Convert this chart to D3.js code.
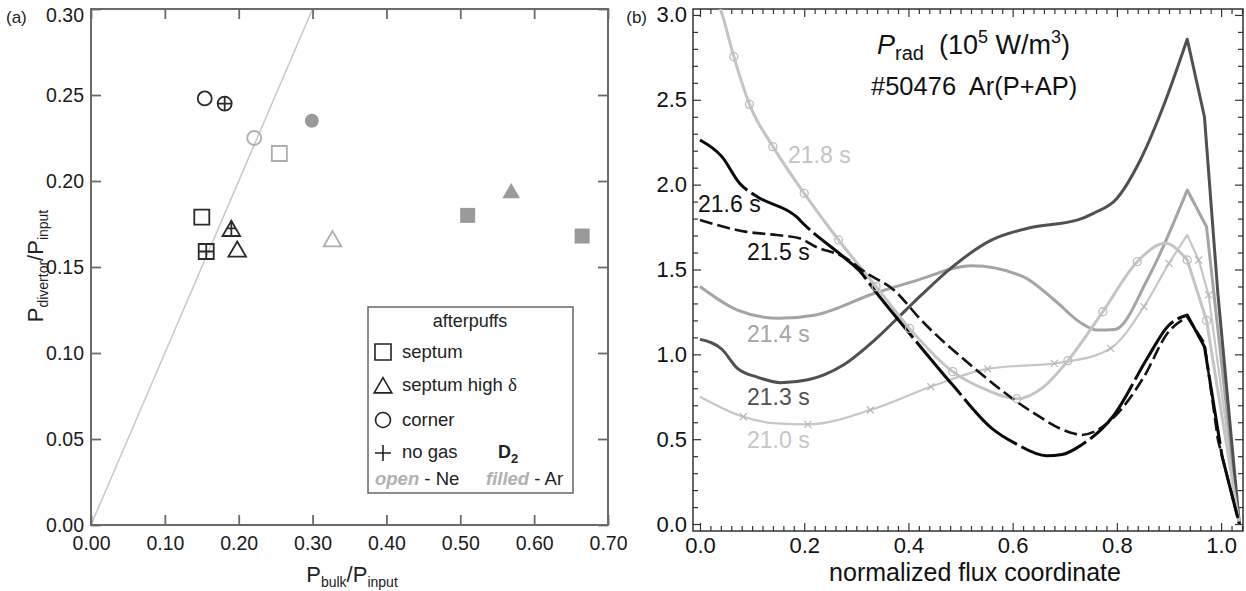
<!DOCTYPE html>
<html><head><meta charset="utf-8">
<script src="https://cdn.jsdelivr.net/npm/d3@7"></script>
<style>
body{margin:0;background:#fff}
svg{display:block}
text{font-family:"Liberation Sans",Arial,Helvetica,sans-serif}
</style>
</head><body>
<svg id="c" width="1246" height="591"></svg>
<script>
// ---------- Panel (a) data ----------
const aXTicks = [0, 0.1, 0.2, 0.3, 0.4, 0.5, 0.6, 0.7];
const aXTickLabels = ["0.00","0.10","0.20","0.30","0.40","0.50","0.60","0.70"];
const aYTicks = [0, 0.05, 0.1, 0.15, 0.2, 0.25, 0.3];
const aYTickLabels = ["0.00","0.05","0.10","0.15","0.20","0.25","0.30"];
const refLineX = [0, 0.3];
const refLineY = [0, 0.3];
const ptX     = [0.154, 0.181, 0.221, 0.299, 0.255, 0.150, 0.190, 0.156, 0.198, 0.327, 0.510, 0.569, 0.665];
const ptY     = [0.248, 0.245, 0.225, 0.235, 0.216, 0.179, 0.172, 0.159, 0.160, 0.166, 0.180, 0.194, 0.168];
const ptShape = ["circle","circle","circle","circle","square","square","triangle","square","triangle","triangle","square","triangle","square"];
const ptGas   = ["D2","D2","Ne","Ar","Ne","D2","D2","D2","D2","Ne","Ar","Ar","Ar"];
const ptNoGas = [false,true,false,false,false,false,true,true,false,false,false,false,false];
const legendItems = ["septum","septum high ","corner","no gas"];
const legendShapes = ["square","triangle","circle","plus"];

// ---------- Panel (b) data ----------
const bXMajor = [0, 0.2, 0.4, 0.6, 0.8, 1.0];
const bXMajorLabels = ["0.0","0.2","0.4","0.6","0.8","1.0"];
const bYMajor = [0, 0.5, 1.0, 1.5, 2.0, 2.5, 3.0];
const bYMajorLabels = ["0.0","0.5","1.0","1.5","2.0","2.5","3.0"];
const bXMinorStep = 0.02;
const bYMinorStep = 0.1;

const s218x = [0, 0.02, 0.042, 0.065, 0.095, 0.14, 0.2, 0.266, 0.338, 0.402, 0.485, 0.55, 0.608, 0.66, 0.706, 0.773, 0.839, 0.893, 0.935, 0.972, 1.035];
const s218y = [3.40, 3.20, 3.01, 2.754, 2.473, 2.224, 1.949, 1.674, 1.399, 1.153, 0.898, 0.79, 0.738, 0.81, 0.963, 1.251, 1.546, 1.654, 1.556, 1.20, 0.0];
const s218marks = [0.065, 0.095, 0.14, 0.2, 0.266, 0.338, 0.402, 0.485, 0.608, 0.706, 0.773, 0.839, 0.935, 0.972];

const s216x = [0, 0.042, 0.076, 0.11, 0.185, 0.2, 0.275, 0.305, 0.342, 0.41, 0.485, 0.56, 0.605, 0.665, 0.695, 0.732, 0.792, 0.86, 0.897, 0.935, 0.968, 1.002, 1.035];
const s216y = [2.263, 2.165, 2.008, 1.929, 1.811, 1.765, 1.575, 1.495, 1.35, 1.094, 0.819, 0.564, 0.475, 0.403, 0.41, 0.466, 0.632, 0.986, 1.163, 1.232, 1.045, 0.397, 0.0];

const s215x = [0, 0.087, 0.147, 0.191, 0.222, 0.275, 0.32, 0.372, 0.425, 0.522, 0.635, 0.71, 0.732, 0.785, 0.852, 0.897, 0.935, 0.968, 0.994, 1.035];
const s215y = [1.792, 1.723, 1.703, 1.684, 1.634, 1.575, 1.478, 1.379, 1.20, 0.93, 0.665, 0.540, 0.525, 0.603, 0.868, 1.124, 1.22, 1.065, 0.495, 0.0];

const s214x = [0, 0.072, 0.151, 0.222, 0.335, 0.41, 0.522, 0.62, 0.68, 0.732, 0.762, 0.796, 0.86, 0.935, 0.972, 1.035];
const s214y = [1.40, 1.261, 1.212, 1.232, 1.36, 1.43, 1.522, 1.458, 1.32, 1.183, 1.143, 1.147, 1.45, 1.968, 1.752, 0.0];

const s213x = [0, 0.042, 0.072, 0.11, 0.155, 0.207, 0.275, 0.335, 0.395, 0.425, 0.485, 0.56, 0.635, 0.725, 0.755, 0.8, 0.845, 0.889, 0.935, 0.968, 0.994, 1.035];
const s213y = [1.088, 1.03, 0.917, 0.866, 0.833, 0.85, 0.937, 1.084, 1.261, 1.35, 1.517, 1.674, 1.747, 1.792, 1.831, 1.919, 2.145, 2.46, 2.857, 2.40, 1.35, 0.0];

const s210x = [0, 0.083, 0.147, 0.207, 0.327, 0.443, 0.552, 0.68, 0.71, 0.788, 0.852, 0.9, 0.935, 0.957, 0.976, 1.035];
const s210y = [0.75, 0.632, 0.593, 0.587, 0.672, 0.809, 0.914, 0.947, 0.96, 1.035, 1.281, 1.536, 1.703, 1.556, 1.35, 0.0];
const s210marks = [0.083, 0.207, 0.327, 0.443, 0.552, 0.68, 0.788, 0.852, 0.9, 0.957, 0.976];

const seriesNames = ["21.8 s","21.6 s","21.5 s","21.4 s","21.3 s","21.0 s"];

// ---------- drawing ----------
const svg = d3.select("#c");
const FONT = '"Liberation Sans",Arial,Helvetica,sans-serif';

// ===== Panel (a) =====
const xA = d3.scaleLinear([0, 0.7], [91, 608]);
const yA = d3.scaleLinear([0, 0.3], [525, 9]);
const gA = svg.append("g");
const axCol = "#6a6a6a";

gA.append("defs").append("clipPath").attr("id","clipA").append("rect")
  .attr("x",xA(0)).attr("y",yA(0.3)).attr("width",xA(0.7)-xA(0)).attr("height",yA(0)-yA(0.3));

gA.append("line").attr("clip-path","url(#clipA)")
  .attr("x1",xA(refLineX[0])).attr("y1",yA(refLineY[0]))
  .attr("x2",xA(refLineX[1])).attr("y2",yA(refLineY[1]))
  .attr("stroke","#c8c8c8").attr("stroke-width",1.5);

function styleAxis(g, col, w, fs, tc){
  g.select(".domain").remove();
  g.selectAll(".tick line").attr("stroke",col).attr("stroke-width",w);
  g.selectAll(".tick text").attr("font-size",fs).attr("fill",tc).attr("font-family",FONT);
}
const axB = gA.append("g").attr("transform",`translate(0,${yA(0)})`)
  .call(d3.axisBottom(xA).tickValues(aXTicks).tickFormat((d,i)=>aXTickLabels[i]).tickSizeInner(-10).tickSizeOuter(0).tickPadding(11));
styleAxis(axB, axCol, 1.8, 19.5, "#1a1a1a");
const axT = gA.append("g").attr("transform",`translate(0,${yA(0.3)})`)
  .call(d3.axisTop(xA).tickValues(aXTicks).tickFormat("").tickSizeInner(-10).tickSizeOuter(0));
styleAxis(axT, axCol, 1.8, 19.5, "#1a1a1a");
const axL = gA.append("g").attr("transform",`translate(${xA(0)},0)`)
  .call(d3.axisLeft(yA).tickValues(aYTicks).tickFormat((d,i)=>aYTickLabels[i]).tickSizeInner(-10).tickSizeOuter(0).tickPadding(7));
styleAxis(axL, axCol, 1.8, 19.5, "#1a1a1a");
// keep the topmost label inside the picture, as in the reference
axL.selectAll(".tick text").filter(d=>d===0.3).attr("dy","0.62em");
const axR = gA.append("g").attr("transform",`translate(${xA(0.7)},0)`)
  .call(d3.axisRight(yA).tickValues(aYTicks).tickFormat("").tickSizeInner(-10).tickSizeOuter(0));
styleAxis(axR, axCol, 1.8, 19.5, "#1a1a1a");
gA.append("rect").attr("x",xA(0)).attr("y",yA(0.3)).attr("width",xA(0.7)-xA(0)).attr("height",yA(0)-yA(0.3))
  .attr("fill","none").attr("stroke",axCol).attr("stroke-width",2);

function shapePath(shape, cx, cy, s){
  if(shape==="circle"){ const r=s/2; return `M${cx-r},${cy}a${r},${r} 0 1,0 ${2*r},0a${r},${r} 0 1,0 ${-2*r},0Z`; }
  if(shape==="square"){ const h=s/2; return `M${cx-h},${cy-h}h${s}v${s}h${-s}Z`; }
  if(shape==="triangle"){ const w=s*1.1, ht=s*0.95; return `M${cx},${cy-ht*0.55}L${cx+w/2},${cy+ht*0.45}L${cx-w/2},${cy+ht*0.45}Z`; }
  if(shape==="plus"){ const h=s/2; return `M${cx-h},${cy}h${s}M${cx},${cy-h}v${s}`; }
}
function crossPath(shape, cx, cy, s){
  if(shape==="triangle"){ const ht=s*0.95, w=s*1.1; return `M${cx},${cy-ht*0.55}V${cy+ht*0.45}M${cx-w*0.27},${cy-ht*0.05}H${cx+w*0.27}`; }
  const h=s/2; return `M${cx-h},${cy}h${s}M${cx},${cy-h}v${s}`;
}
const gasColor = {D2:"#2a2a2a", Ne:"#adadad", Ar:"#9a9a9a"};
const sizeFor = {circle:14, square:15, triangle:16};
ptX.forEach((x,i)=>{
  const cx=xA(x), cy=yA(ptY[i]), sh=ptShape[i], s=sizeFor[sh];
  const col = gasColor[ptGas[i]];
  const filled = ptGas[i]==="Ar";
  gA.append("path").attr("d",shapePath(sh,cx,cy,s))
    .attr("fill", filled?col:"none").attr("stroke",col).attr("stroke-width",filled?0:1.8);
  if(ptNoGas[i]) gA.append("path").attr("d",crossPath(sh,cx,cy,s)).attr("fill","none").attr("stroke",col).attr("stroke-width",1.8);
});

// Legend
gA.append("rect").attr("x",368).attr("y",307).attr("width",205).attr("height",186)
  .attr("fill","#fff").attr("stroke","#666").attr("stroke-width",1.5);
gA.append("text").attr("x",470).attr("y",327).attr("text-anchor","middle").attr("font-size",18).attr("fill","#222").text("afterpuffs");
const legY = [352, 386, 420, 453];
const legBase = [358, 391, 426, 458];
legendItems.forEach((t,i)=>{
  gA.append("path").attr("d",shapePath(legendShapes[i],383,legY[i],legendShapes[i]==="circle"?15:16))
    .attr("fill","none").attr("stroke","#222").attr("stroke-width",1.6);
  const tx = gA.append("text").attr("x",402).attr("y",legBase[i]).attr("font-size",18.5).attr("fill","#222").text(t);
  if(i===1) tx.append("tspan").attr("font-family","'Liberation Serif','DejaVu Serif',serif").attr("font-size",19).text("δ");
});
const d2 = gA.append("text").attr("x",498).attr("y",458).attr("font-size",18).attr("font-weight","bold").attr("fill","#222");
d2.append("tspan").text("D");
d2.append("tspan").attr("font-size",13).attr("dy",5).text("2");
const on = gA.append("text").attr("x",375).attr("y",485).attr("font-size",18.5).attr("fill","#222");
on.append("tspan").attr("font-weight","bold").attr("font-style","italic").attr("fill","#b0b0b0").text("open");
on.append("tspan").text(" - Ne");
const fa = gA.append("text").attr("x",486).attr("y",485).attr("font-size",18.5).attr("fill","#222");
fa.append("tspan").attr("font-weight","bold").attr("font-style","italic").attr("fill","#b0b0b0").text("filled");
fa.append("tspan").text(" - Ar");

// axis titles
const xt = gA.append("text").attr("x",352).attr("y",582).attr("text-anchor","middle").attr("font-size",22).attr("fill","#222");
xt.append("tspan").text("P");
xt.append("tspan").attr("font-size",14).attr("dy",5).text("bulk");
xt.append("tspan").attr("dy",-5).text("/P");
xt.append("tspan").attr("font-size",14).attr("dy",5).text("input");
const yt = gA.append("text").attr("transform","translate(43,266) rotate(-90)").attr("text-anchor","middle").attr("font-size",22).attr("fill","#222");
yt.append("tspan").text("P");
yt.append("tspan").attr("font-size",14).attr("dy",5).text("divertor");
yt.append("tspan").attr("dy",-5).text("/P");
yt.append("tspan").attr("font-size",14).attr("dy",5).text("input");
svg.append("text").attr("x",6).attr("y",23).attr("font-size",17).attr("fill","#222").text("(a)");

// ===== Panel (b) =====
const xB = d3.scaleLinear([-0.0134, 1.042], [693, 1243]);
const yB = d3.scaleLinear([-0.041, 3.035], [531, 9]);
const gB = svg.append("g");
const bCol = "#333";
gB.append("defs").append("clipPath").attr("id","clipB").append("rect")
  .attr("x",693).attr("y",9).attr("width",550).attr("height",522);

const xMinor = d3.range(0, 1.041, bXMinorStep).filter(v=>!bXMajor.some(m=>Math.abs(m-v)<1e-6));
const yMinor = d3.range(0, 3.001, bYMinorStep).filter(v=>!bYMajor.some(m=>Math.abs(m-v)<1e-6));

function addAxis(axisFn, scale, vals, labels, size, pad, tr){
  const g = gB.append("g").attr("transform",tr)
    .call(axisFn(scale).tickValues(vals).tickFormat(labels?((d,i)=>labels[i]):"").tickSizeInner(-size).tickSizeOuter(0).tickPadding(pad));
  styleAxis(g, bCol, 1.2, 22, "#111");
  return g;
}
addAxis(d3.axisBottom, xB, bXMajor, bXMajorLabels, 8, 6, `translate(0,531)`);
addAxis(d3.axisBottom, xB, xMinor, null, 5, 6, `translate(0,531)`);
addAxis(d3.axisTop, xB, bXMajor, null, 8, 6, `translate(0,9)`);
addAxis(d3.axisTop, xB, xMinor, null, 5, 6, `translate(0,9)`);
addAxis(d3.axisLeft, yB, bYMajor, bYMajorLabels, 8, 6, `translate(693,0)`);
addAxis(d3.axisLeft, yB, yMinor, null, 5, 6, `translate(693,0)`);
addAxis(d3.axisRight, yB, bYMajor, null, 8, 6, `translate(1243,0)`);
addAxis(d3.axisRight, yB, yMinor, null, 5, 6, `translate(1243,0)`);
gB.append("rect").attr("x",693).attr("y",9).attr("width",550).attr("height",522)
  .attr("fill","none").attr("stroke",bCol).attr("stroke-width",1.5);

function pathFor(xs, ys){
  const pts = xs.map((x,i)=>[xB(x), yB(ys[i])]);
  const k = xs.findIndex(x => x >= 0.935 - 1e-9);
  const a = d3.line().curve(d3.curveMonotoneX)(pts.slice(0,k+1));
  const b = d3.line()(pts.slice(k));
  return a + b.replace(/^M[^L]*/, "");
}
function yAt(xs, ys, x){
  const i = d3.bisectLeft(xs, x - 1e-9);
  return ys[Math.min(i, ys.length-1)];
}
const lines = gB.append("g").attr("clip-path","url(#clipB)").attr("fill","none");
const seriesSpec = [
  {x:s210x, y:s210y, col:"#c6c6c6", w:2.2, dash:null},
  {x:s214x, y:s214y, col:"#a4a4a4", w:3, dash:null},
  {x:s213x, y:s213y, col:"#505050", w:3, dash:null},
  {x:s218x, y:s218y, col:"#c4c4c4", w:3, dash:null},
  {x:s215x, y:s215y, col:"#141414", w:2.6, dash:"13,5"},
  {x:s216x, y:s216y, col:"#0a0a0a", w:3, dash:"70,5"}
];
seriesSpec.forEach(s=>{
  const p = lines.append("path").attr("d",pathFor(s.x,s.y)).attr("stroke",s.col).attr("stroke-width",s.w)
    .attr("stroke-linejoin","round");
  if(s.dash) p.attr("stroke-dasharray",s.dash);
});
s218marks.forEach(mx=>{
  lines.append("circle").attr("cx",xB(mx)).attr("cy",yB(yAt(s218x,s218y,mx))).attr("r",4)
    .attr("fill","none").attr("stroke","#bdbdbd").attr("stroke-width",1.3);
});
s210marks.forEach(mx=>{
  const cx=xB(mx), cy=yB(yAt(s210x,s210y,mx)), h=3.5;
  lines.append("path").attr("d",`M${cx-h},${cy-h}L${cx+h},${cy+h}M${cx-h},${cy+h}L${cx+h},${cy-h}`)
    .attr("stroke","#b8b8b8").attr("stroke-width",1.2);
});

// series labels
const labPos = [[788,163,"#c4c4c4"],[698,212,"#111"],[747,260,"#111"],[747,342,"#a4a4a4"],[747,405,"#505050"],[747,448,"#c6c6c6"]];
seriesNames.forEach((n,i)=>{
  gB.append("text").attr("x",labPos[i][0]).attr("y",labPos[i][1]).attr("font-size",23).attr("fill",labPos[i][2]).text(n);
});

// titles
const tt = gB.append("text").attr("x",877).attr("y",54).attr("font-size",27).attr("fill","#111");
tt.append("tspan").attr("font-style","italic").text("P");
tt.append("tspan").attr("font-size",20).attr("dy",6).text("rad");
tt.append("tspan").attr("dy",-6).text("\u00a0 (10");
tt.append("tspan").attr("font-size",18).attr("dy",-11).text("5");
tt.append("tspan").attr("dy",11).text("\u00a0W/m");
tt.append("tspan").attr("font-size",18).attr("dy",-11).text("3");
tt.append("tspan").attr("dy",11).text(")");
gB.append("text").attr("x",871).attr("y",95).attr("font-size",25.5).attr("fill","#111").text("#50476\u00a0 Ar(P+AP)");
gB.append("text").attr("x",975).attr("y",581).attr("text-anchor","middle").attr("font-size",25).attr("fill","#111").text("normalized flux coordinate");
svg.append("text").attr("x",647).attr("y",23).attr("text-anchor","end").attr("font-size",17).attr("fill","#222").text("(b)");
</script>
</body></html>
